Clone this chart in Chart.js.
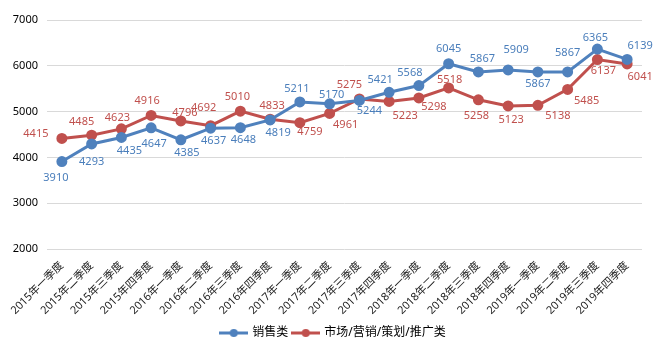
<!DOCTYPE html>
<html>
<head>
<meta charset="utf-8">
<script src="https://cdn.jsdelivr.net/npm/chart.js@4"></script>
<style>
  html, body { margin: 0; padding: 0; background: #fff; }
  #wrap { width: 667px; height: 349px; }
</style>
</head>
<body>
<div id="wrap"><canvas id="trendChart" width="667" height="349"></canvas></div>
<script>
const quarters = [
  '2015年一季度', '2015年二季度', '2015年三季度', '2015年四季度',
  '2016年一季度', '2016年二季度', '2016年三季度', '2016年四季度',
  '2017年一季度', '2017年二季度', '2017年三季度', '2017年四季度',
  '2018年一季度', '2018年二季度', '2018年三季度', '2018年四季度',
  '2019年一季度', '2019年二季度', '2019年三季度', '2019年四季度',
];
const salesValues = [3910, 4293, 4435, 4647, 4385, 4637, 4648, 4819, 5211, 5170,
  5244, 5421, 5568, 6045, 5867, 5909, 5867, 5867, 6365, 6139];
const marketingValues = [4415, 4485, 4623, 4916, 4796, 4692, 5010, 4833, 4759, 4961,
  5275, 5223, 5298, 5518, 5258, 5123, 5138, 5485, 6137, 6041];
const yTicks = [2000, 3000, 4000, 5000, 6000, 7000];

// label offsets from each point, [dx, dy] in px
const salesLabelOffsets = [[-6, 16], [0, 18], [8, 13], [3, 16], [6, 13], [3, 13], [3, 12], [8, 13],
  [-3, -13], [2, -9], [10, 10], [-9, -12], [-9, -13], [0, -15], [4, -13], [8, -20],
  [0, 12], [0, -19], [-2, -11], [13, -14]];
const marketingLabelOffsets = [[-26, -5], [-10, -13], [-4, -11], [-4, -15], [4, -8], [-7, -18], [-3, -14], [2, -13],
  [10, 9], [16, 11], [-10, -14], [16, 14], [15, 9], [1, -8], [-2, 16], [3, 14],
  [20, 11], [19, 11], [6, 11], [13, 13]];

const blue = '#4f81bd';
const red = '#c0504d';
const font = '"Noto Sans", "Noto Sans CJK SC", sans-serif';

function legendMarker(color) {
  const c = document.createElement('canvas');
  c.width = 29;
  c.height = 10;
  const ctx = c.getContext('2d');
  ctx.strokeStyle = color;
  ctx.lineWidth = 3;
  ctx.beginPath();
  ctx.moveTo(0, 5);
  ctx.lineTo(29, 5);
  ctx.stroke();
  ctx.fillStyle = color;
  ctx.beginPath();
  ctx.arc(14.5, 5, 4, 0, Math.PI * 2);
  ctx.fill();
  return c;
}

const pointLabels = {
  id: 'pointLabels',
  afterDatasetsDraw(chart) {
    const ctx = chart.ctx;
    ctx.save();
    ctx.font = '11px ' + font;
    ctx.textAlign = 'center';
    ctx.textBaseline = 'middle';
    chart.data.datasets.forEach((ds, di) => {
      const meta = chart.getDatasetMeta(di);
      meta.data.forEach((pt, i) => {
        const [dx, dy] = ds.labelOffsets[i];
        ctx.fillStyle = ds.labelColor;
        ctx.fillText(String(ds.data[i]), pt.x + dx, pt.y + dy);
      });
    });
    ctx.restore();
  },
};

// nudge the legend a bit right/down, like the original
const legendShift = {
  id: 'legendShift',
  afterUpdate(chart) {
    const lg = chart.legend;
    lg.left += 9;
    lg.right += 9;
    lg.top += 2;
    lg.bottom += 2;
    lg.adjustHitBoxes();
  },
};

function renderChart() {
  new Chart(document.getElementById('trendChart'), {
    type: 'line',
    data: {
      labels: quarters,
      datasets: [
        {
          label: '销售类',
          data: salesValues,
          borderColor: blue,
          backgroundColor: blue,
          borderWidth: 3,
          pointRadius: 4,
          pointStyle: 'circle',
          labelColor: '#4a7ebb',
          labelOffsets: salesLabelOffsets,
          order: 1,
        },
        {
          label: '市场/营销/策划/推广类',
          data: marketingValues,
          borderColor: red,
          backgroundColor: red,
          borderWidth: 3,
          pointRadius: 4,
          pointStyle: 'circle',
          labelColor: '#c0504d',
          labelOffsets: marketingLabelOffsets,
          order: 2,
        },
      ],
    },
    options: {
      responsive: false,
      animation: false,
      elements: {
        line: { tension: 0 },
      },
      layout: { padding: { left: 7, right: 25, top: 20, bottom: 2 } },
      plugins: {
        tooltip: { enabled: false },
        legend: {
          position: 'bottom',
          labels: {
            usePointStyle: true,
            pointStyleWidth: 25,
            color: '#000',
            font: { size: 12, family: font },
            padding: 5,
            boxHeight: 10,
            generateLabels: (chart) => {
              const items = Chart.defaults.plugins.legend.labels.generateLabels(chart);
              items.forEach((it) => {
                const ds = chart.data.datasets[it.datasetIndex];
                it.pointStyle = legendMarker(ds.borderColor);
              });
              return items;
            },
          },
        },
      },
      scales: {
        x: {
          offset: true,
          grid: { display: false },
          border: { display: false },
          ticks: {
            color: '#222',
            font: { size: 11, family: font },
            minRotation: 45,
            maxRotation: 45,
            autoSkip: false,
            padding: 2,
          },
          afterFit: (s) => { s.height = 71; },
        },
        y: {
          min: yTicks[0],
          max: yTicks[yTicks.length - 1],
          afterBuildTicks: (s) => { s.ticks = yTicks.map((v) => ({ value: v })); },
          grid: { color: '#d9d9d9', drawTicks: false },
          border: { display: false },
          ticks: {
            color: '#000',
            font: { size: 11, family: font },
            padding: 9,
            callback: (v) => String(v),
          },
          afterFit: (s) => { s.width = 40; },
        },
      },
    },
    plugins: [pointLabels, legendShift],
  });
}

renderChart();
</script>
</body>
</html>
